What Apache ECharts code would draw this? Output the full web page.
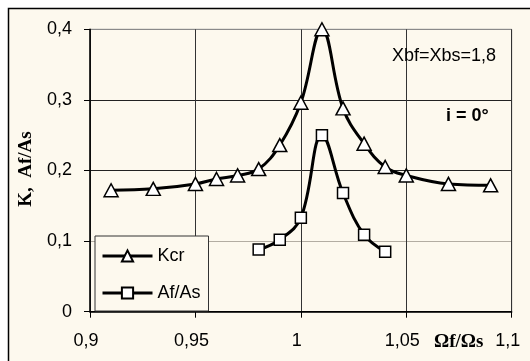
<!DOCTYPE html>
<html>
<head>
<meta charset="utf-8">
<script src="https://cdn.jsdelivr.net/npm/echarts@6/dist/echarts.min.js"></script>
<style>
html,body{margin:0;padding:0;background:#fff;}
#c{width:530px;height:361px;}
</style>
</head>
<body>
<div id="c"></div>
<script>
// Data
const kcrX = [0.91, 0.93, 0.95, 0.96, 0.97, 0.98, 0.99, 1.00, 1.01, 1.02, 1.03, 1.04, 1.05, 1.07, 1.09];
const kcrY = [0.172, 0.174, 0.181, 0.188, 0.193, 0.202, 0.236, 0.296, 0.400, 0.288, 0.238, 0.205, 0.193, 0.181, 0.179];
const afX = [0.98, 0.99, 1.00, 1.01, 1.02, 1.03, 1.04];
const afY = [0.088, 0.102, 0.133, 0.250, 0.168, 0.109, 0.085];
const seriesNames = ['Kcr', 'Af/As'];
const xAxisTitle = 'Ωf/Ωs';
const yAxisTitle = 'K,  Af/As';
const note1 = 'Xbf=Xbs=1,8';
const note2 = 'i = 0°';

const cream = '#fdf9ee';
const fmt = v => String(Math.round(v * 100) / 100).replace('.', ',');
const pairs = (xs, ys) => xs.map((x, i) => [x, ys[i]]);

const chart = echarts.init(document.getElementById('c'));
chart.setOption({
  animation: false,
  backgroundColor: 'transparent',
  grid: {
    left: 90, top: 29.3, right: 18.3, bottom: 49.3,
    show: true, backgroundColor: 'transparent',
    borderColor: '#8a8a8a', borderWidth: 1
  },
  xAxis: {
    type: 'value', min: 0.9, max: 1.1, interval: 0.05,
    axisLine: { show: true, onZero: false, lineStyle: { color: '#000', width: 1.5 } },
    axisTick: { show: true, inside: false, length: 6, lineStyle: { color: '#000' } },
    axisLabel: {
      formatter: fmt, margin: 20, color: '#000',
      fontFamily: 'Liberation Sans', fontSize: 18, padding: [0, 8, 0, 0]
    },
    splitLine: { show: true, lineStyle: { color: '#333', width: 1 } }
  },
  yAxis: {
    type: 'value', min: 0, max: 0.4, interval: 0.1,
    axisLine: { show: true, onZero: false, lineStyle: { color: '#000', width: 1.5 } },
    axisTick: { show: true, inside: false, length: 6, lineStyle: { color: '#000' } },
    axisLabel: {
      formatter: fmt, margin: 18, color: '#000',
      fontFamily: 'Liberation Sans', fontSize: 18
    },
    splitLine: {
      show: true, showMinLine: true,
      lineStyle: { color: ['#000', '#b3ada2', '#222', '#222', '#8a8a8a'], width: 1 }
    }
  },
  legend: {
    orient: 'vertical', left: 95, top: 236,
    padding: [11, 8, 9, 6], itemGap: 19,
    itemWidth: 50, itemHeight: 14,
    backgroundColor: cream, borderColor: '#333', borderWidth: 1,
    lineStyle: { color: '#000', width: 3 },
    textStyle: { fontFamily: 'Liberation Sans', fontSize: 18, color: '#000' },
    data: seriesNames
  },
  series: [
    {
      name: seriesNames[0], type: 'line', smooth: 0.4,
      data: pairs(kcrX, kcrY),
      symbol: 'triangle', symbolSize: [14, 13],
      lineStyle: { color: '#000', width: 3 },
      itemStyle: { color: '#fff', borderColor: '#000', borderWidth: 1.5 },
      z: 3
    },
    {
      name: seriesNames[1], type: 'line', smooth: 0.4,
      data: pairs(afX, afY),
      symbol: 'rect', symbolSize: 11,
      lineStyle: { color: '#000', width: 3 },
      itemStyle: { color: '#fff', borderColor: '#000', borderWidth: 1.5 },
      z: 3
    }
  ],
  graphic: [
    {
      type: 'rect', z: -100, silent: true,
      shape: { x: 8.5, y: 8.5, width: 600, height: 500 },
      style: { fill: cream, stroke: '#000', lineWidth: 1.5 }
    },
    {
      type: 'text', left: 392, top: 47, z: 10,
      style: { text: note1, font: '18px "Liberation Sans"', fill: '#000' }
    },
    {
      type: 'text', left: 446, top: 107, z: 10,
      style: { text: note2, font: 'bold 18px "Liberation Sans"', fill: '#000' }
    },
    {
      type: 'text', left: 434, top: 333, z: 10,
      style: { text: xAxisTitle, font: 'bold 19px "Liberation Serif"', fill: '#000' }
    },
    {
      type: 'text', x: 26, y: 169, rotation: Math.PI / 2, z: 10,
      style: { text: yAxisTitle, font: 'bold 19px "Liberation Serif"', fill: '#000',
               textAlign: 'center', textVerticalAlign: 'middle' }
    }
  ]
});
</script>
</body>
</html>
